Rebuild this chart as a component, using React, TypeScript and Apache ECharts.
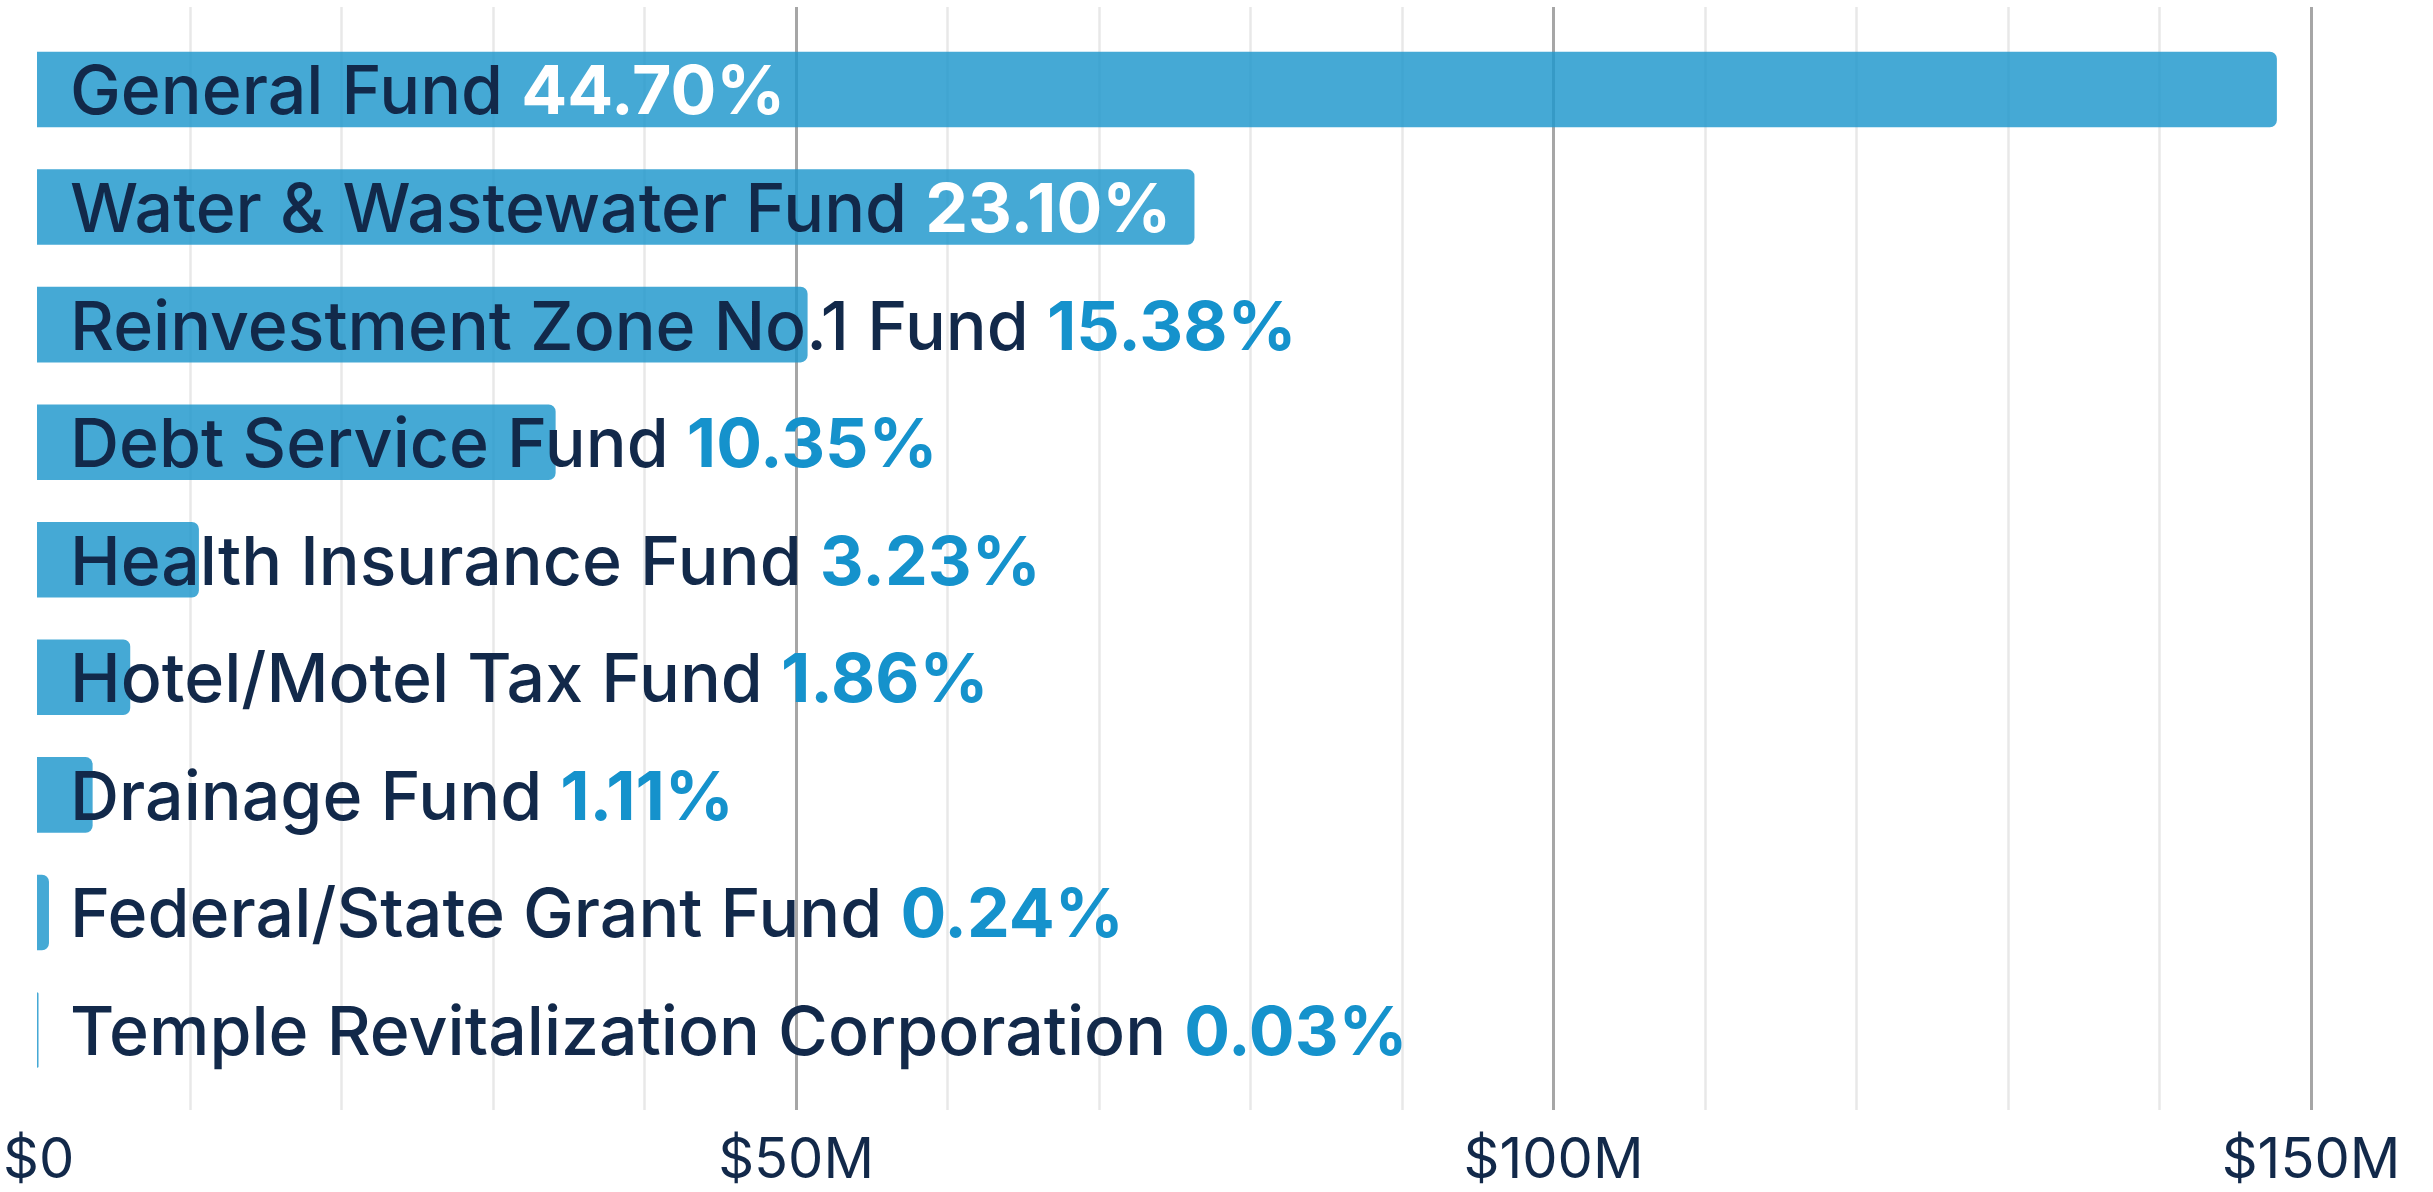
import React, { useEffect, useRef } from "react";
import * as echarts from "echarts";

const categories = [
  "General Fund",
  "Water & Wastewater Fund",
  "Reinvestment Zone No.1 Fund",
  "Debt Service Fund",
  "Health Insurance Fund",
  "Hotel/Motel Tax Fund",
  "Drainage Fund",
  "Federal/State Grant Fund",
  "Temple Revitalization Corporation",
];
// amounts in $ millions
const amountsM = [147.75, 76.35, 50.83, 34.21, 10.68, 6.15, 3.67, 0.79, 0.1];
const shares = ["44.70%", "23.10%", "15.38%", "10.35%", "3.23%", "1.86%", "1.11%", "0.24%", "0.03%"];
const shareOnBar = [true, true, false, false, false, false, false, false, false];
const xTickValues = [0, 50, 100, 150];
const xTickLabels = ["$0", "$50M", "$100M", "$150M"];

const NAVY = "#12294A";
const BLUE = "#1592CC";
const FONT = "Inter, 'Liberation Sans', sans-serif";

export default function App() {
  const ref = useRef<HTMLDivElement>(null);
  useEffect(() => {
    document.body.style.margin = "0";
    document.body.style.overflow = "hidden";
    const chart = echarts.init(ref.current!, null, { renderer: "svg" });
    const option: any = {
      animation: false,
      backgroundColor: "#ffffff",
      textStyle: { fontFamily: FONT },
      grid: [
        { left: 37, right: 122, top: 7, bottom: 82, containLabel: false },
        { left: 37, right: 122, top: 30.7, bottom: 103.2, containLabel: false },
      ],
      xAxis: [
        {
          gridIndex: 0,
          type: "value",
          min: 0,
          max: 150,
          interval: 50,
          axisLine: { show: false },
          axisTick: { show: false },
          axisLabel: {
            show: true,
            margin: 23,
            fontSize: 56,
            lineHeight: 50,
            fontFamily: FONT,
            color: NAVY,
            formatter: (v: number) => {
              const i = xTickValues.indexOf(v);
              return i >= 0 ? xTickLabels[i] : "";
            },
          },
          splitLine: {
            show: true,
            showMinLine: false,
            lineStyle: { color: "#a6a6a6", width: 3 },
          },
          minorTick: { show: false, splitNumber: 5 },
          minorSplitLine: { show: true, lineStyle: { color: "#e8e8e8", width: 2.5 } },
        },
        {
          gridIndex: 1,
          type: "value",
          min: 0,
          max: 150,
          show: false,
          splitLine: { show: false },
        },
      ],
      yAxis: [
        { gridIndex: 0, type: "value", show: false, splitLine: { show: false } },
        {
          gridIndex: 1,
          type: "category",
          inverse: true,
          data: categories,
          show: false,
        },
      ],
      series: [
        {
          type: "bar",
          xAxisIndex: 1,
          yAxisIndex: 1,
          data: amountsM,
          barCategoryGap: "35.7%",
          itemStyle: {
            color: "rgba(31,151,205,0.83)",
            borderRadius: [0, 7, 7, 0],
          },
          label: {
            show: true,
            position: [33, "50%"],
            align: "left",
            verticalAlign: "middle",
            color: NAVY,
            fontFamily: FONT,
            formatter: (p: any) => {
              const i = p.dataIndex;
              return `{n|${categories[i]} }{${shareOnBar[i] ? "pw" : "pb"}|${shares[i]}}`;
            },
            rich: {
              n: { color: NAVY, fontSize: 68, fontWeight: 500, fontFamily: FONT },
              pw: { color: "#ffffff", fontSize: 68, fontWeight: 700, fontFamily: FONT },
              pb: { color: BLUE, fontSize: 68, fontWeight: 700, fontFamily: FONT },
            },
          },
        },
      ],
    };
    chart.setOption(option);
    return () => chart.dispose();
  }, []);
  return <div ref={ref} style={{ width: 2433, height: 1192 }} />;
}
